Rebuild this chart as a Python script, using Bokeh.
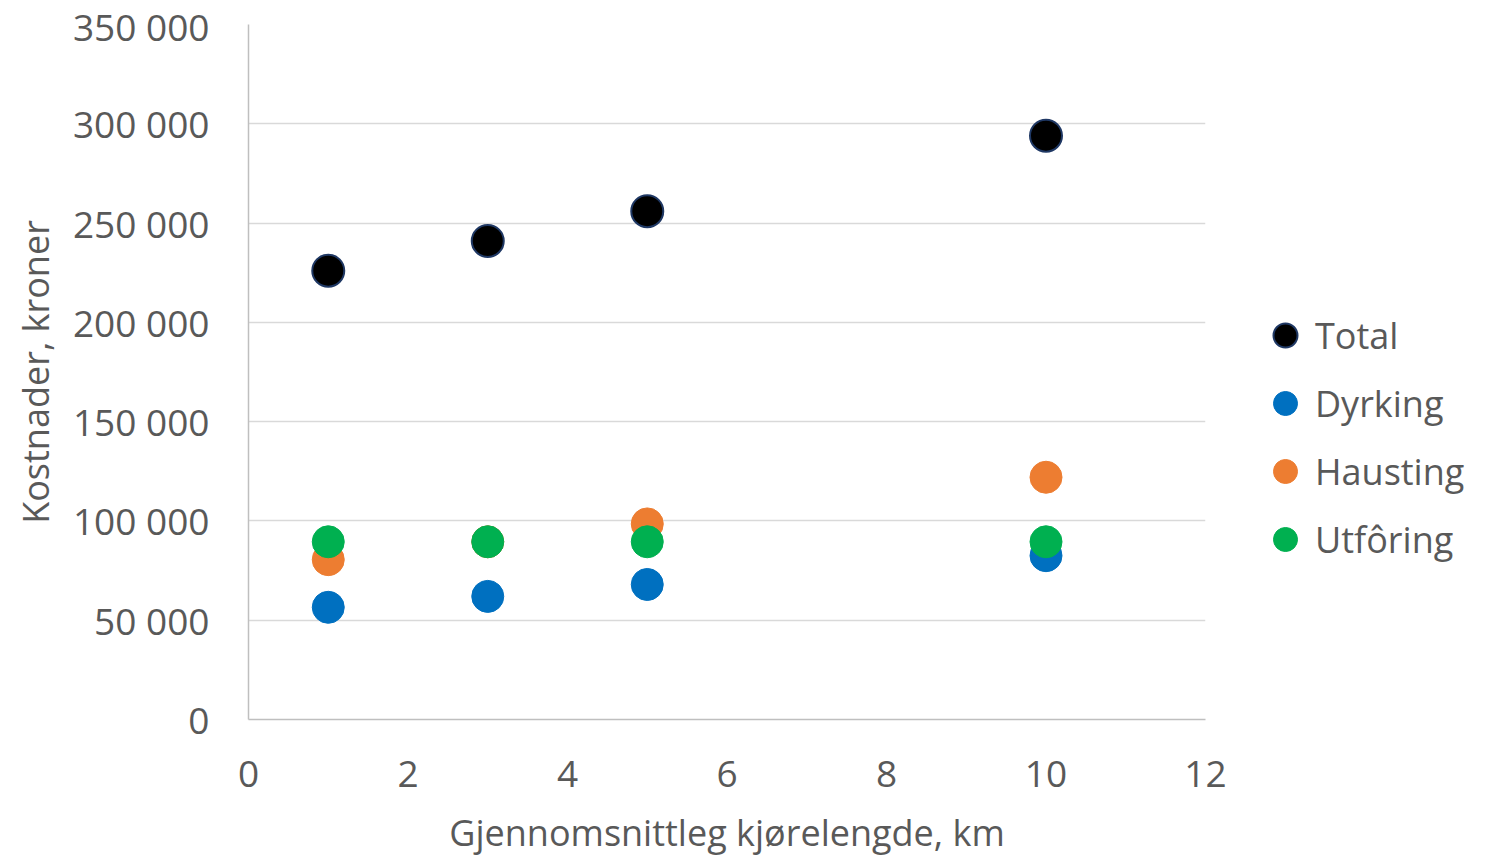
from bokeh.plotting import figure
from bokeh.models import Range1d, FixedTicker, Legend, LegendItem
from bokeh.embed import file_html
from bokeh.resources import INLINE

km = [1, 3, 5, 10]
total = [226000, 241000, 256000, 294000]
dyrking = [56500, 62000, 68000, 82500]
hausting = [80500, 89500, 98500, 122000]
utforing = [89500, 89500, 89500, 89500]

y_ticks = [0, 50000, 100000, 150000, 200000, 250000, 300000, 350000]
y_labels = ["0", "50 000", "100 000", "150 000", "200 000", "250 000", "300 000", "350 000"]
x_ticks = [0, 2, 4, 6, 8, 10, 12]

FONT = "Open Sans"
TXT = "#595959"

p = figure(output_backend="svg", toolbar_location=None,
           x_range=Range1d(0, 12), y_range=Range1d(0, 350000),
           min_border_left=248, min_border_top=24, min_border_bottom=126, min_border_right=10,
           frame_width=957, frame_height=695)
p.outline_line_color = None
p.background_fill_color = "white"
p.border_fill_color = "white"

p.xgrid.visible = False
p.ygrid.ticker = FixedTicker(ticks=y_ticks)
p.ygrid.grid_line_color = "#d9d9d9"
p.ygrid.grid_line_width = 1.5

p.yaxis.ticker = FixedTicker(ticks=y_ticks)
p.yaxis.major_label_overrides = {t: l for t, l in zip(y_ticks, y_labels)}
p.xaxis.ticker = FixedTicker(ticks=x_ticks)
for ax in (p.xaxis, p.yaxis):
    ax.axis_line_color = "#bfbfbf"
    ax.axis_line_width = 1.5
    ax.major_tick_line_color = None
    ax.minor_tick_line_color = None
    ax.major_label_text_font = FONT
    ax.major_label_text_font_size = "37px"
    ax.major_label_text_color = TXT
    ax.axis_label_text_font = FONT
    ax.axis_label_text_font_size = "36px"
    ax.axis_label_text_color = TXT
    ax.axis_label_text_font_style = "normal"
p.yaxis.major_label_standoff = 33
p.xaxis.major_label_standoff = 35
p.xaxis.axis_label = "Gjennomsnittleg kjørelengde, km"
p.yaxis.axis_label = "Kostnader, kroner"
p.xaxis.axis_label_standoff = 18
p.yaxis.axis_label_standoff = 10

r_t = p.scatter(km, total, size=32, fill_color="black", line_color="#1f3864", line_width=2)
r_d = p.scatter(km, dyrking, size=32, fill_color="#0070c0", line_color="#0070c0")
r_h = p.scatter(km, hausting, size=32, fill_color="#ed7d31", line_color="#ed7d31")
r_u = p.scatter(km, utforing, size=32, fill_color="#00b050", line_color="#00b050")

legend = Legend(items=[LegendItem(label="Total", renderers=[r_t]),
                       LegendItem(label="Dyrking", renderers=[r_d]),
                       LegendItem(label="Hausting", renderers=[r_h]),
                       LegendItem(label="Utfôring", renderers=[r_u])],
                location=(50, 150), label_text_font=FONT, label_text_font_size="36px",
                label_text_color=TXT, glyph_width=60, glyph_height=60, spacing=8,
                label_standoff=-11, border_line_color=None, background_fill_alpha=0,
                padding=0, margin=0)
p.add_layout(legend, "right")

open("out.html", "w").write(file_html(p, INLINE))
